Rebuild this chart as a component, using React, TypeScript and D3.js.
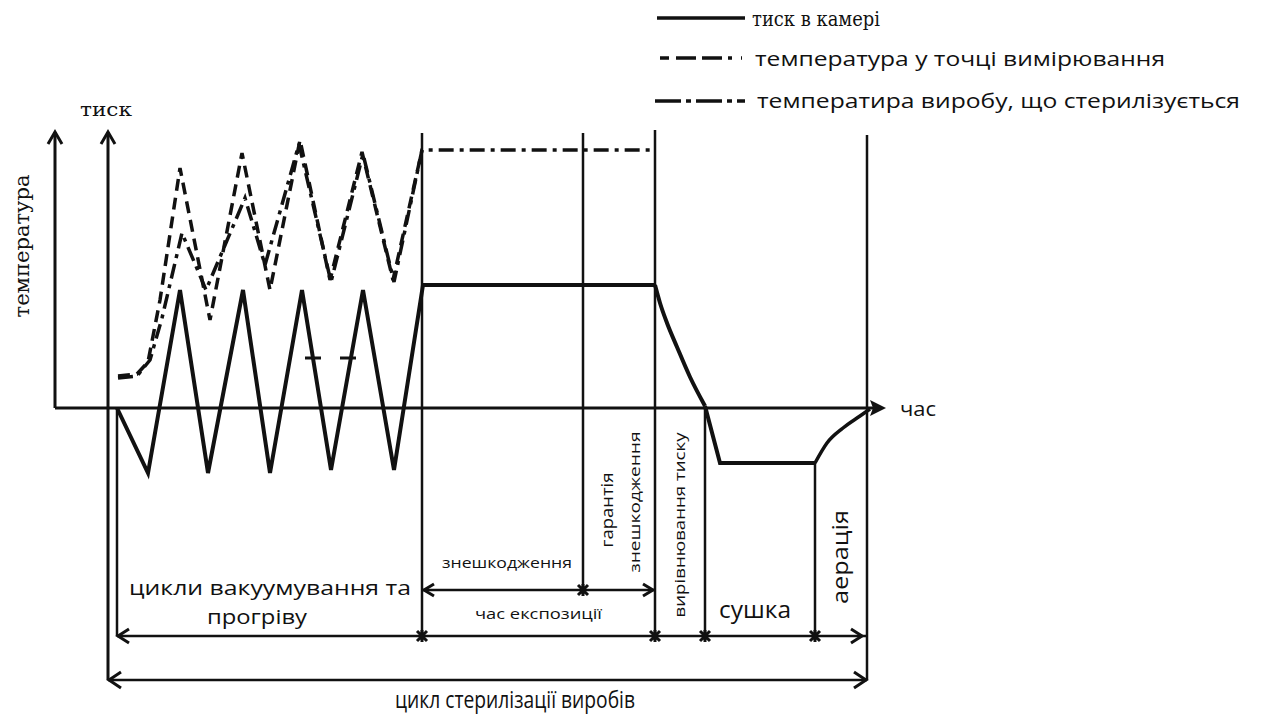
import React, { useEffect, useRef } from "react";
import * as d3 from "d3";

// time (arbitrary units) vs value (arbitrary units); 0 on value = time axis
const pressureZigzag: [number, number][] = [
  [6.2, 0], [9.3, -6.5], [12.5, 11.8], [15.3, -6.5], [18.8, 11.8], [21.5, -6.5],
  [24.7, 11.8], [27.6, -6.2], [30.8, 11.8], [33.9, -6.2], [36.8, 12.3], [60.0, 12.3],
];
const pressureRelease: [number, number][] = [
  [60.0, 12.3], [60.5, 10.5], [61.2, 8.5], [62.2, 6.1], [63.5, 3.1], [65.0, 0.2],
];
const pressureDry: [number, number][] = [
  [65.0, 0.2], [66.5, -5.5], [76.0, -5.5],
];
const pressureAeration: [number, number][] = [
  [76.0, -5.5], [77.2, -3.5], [78.8, -2.0], [80.5, -0.8], [81.5, -0.1],
];
const tempMeasure: [number, number][] = [
  [6.3, 3.2], [8.2, 3.4], [9.3, 4.6], [10.5, 10.8], [12.5, 24.0], [15.5, 8.8],
  [18.7, 25.5], [21.5, 11.8], [24.5, 26.8], [27.5, 12.8], [30.7, 25.6], [33.8, 12.8], [36.7, 25.8],
];
const tempProduct: [number, number][] = [
  [6.3, 3.0], [8.2, 3.2], [9.5, 4.8], [10.7, 9.0], [12.7, 17.5], [15.1, 11.8],
  [19.0, 21.0], [21.0, 14.3], [24.4, 26.4], [27.6, 12.6], [30.8, 25.4], [33.9, 12.6],
  [36.7, 25.8], [60.0, 25.8],
];
const strayDash: [number, number][] = [[25.0, 5.0], [30.5, 5.0]];

// phase boundaries: [time, top value, bottom value]
const boundaries: [number, number, number][] = [
  [6.2, 0, -22.8], [36.7, 27.5, -22.8], [52.8, 27.5, -18.2], [60.0, 27.8, -23.2],
  [65.0, 0, -22.9], [76.0, -5.5, -22.9], [81.2, 27.3, -27.2],
];
const legendLabels = [
  "тиск в камері",
  "температура у точці вимірювання",
  "температира виробу, що стерилізується",
];

export default function App() {
  const ref = useRef<SVGSVGElement>(null);

  useEffect(() => {
    const svg = d3.select(ref.current);
    svg.selectAll("*").remove();

    const x = d3.scaleLinear().domain([0, 83]).range([55, 885]);
    const y = d3.scaleLinear().domain([-30, 30]).range([708, 108]);
    const ink = "#111";

    const line = d3.line<[number, number]>().x((d) => x(d[0])).y((d) => y(d[1]));
    const smooth = d3.line<[number, number]>().x((d) => x(d[0])).y((d) => y(d[1])).curve(d3.curveMonotoneX);

    const g = svg.append("g");

    const seg = (x1: number, y1: number, x2: number, y2: number, w = 2.5) =>
      g.append("line").attr("x1", x1).attr("y1", y1).attr("x2", x2).attr("y2", y2)
        .attr("stroke", ink).attr("stroke-width", w);

    const openArrow = (tx: number, ty: number, dx: number, dy: number, len = 12, w = 7, sw = 3) => {
      const px = -dy, py = dx;
      g.append("path")
        .attr("d", `M${tx - dx * len + px * w},${ty - dy * len + py * w}L${tx},${ty}L${tx - dx * len - px * w},${ty - dy * len - py * w}`)
        .attr("fill", "none").attr("stroke", ink).attr("stroke-width", sw);
    };

    const star = (cx: number, cy: number) => {
      g.append("path")
        .attr("d", `M${cx - 5},${cy - 5}L${cx + 5},${cy + 5}M${cx + 5},${cy - 5}L${cx - 5},${cy + 5}M${cx},${cy - 6}L${cx},${cy + 6}`)
        .attr("stroke", ink).attr("stroke-width", 3);
    };

    // axes
    seg(x(0), y(0), 880, y(0), 3);
    g.append("path").attr("d", `M886,${y(0)}L870,${y(0) - 8}L873,${y(0)}L870,${y(0) + 8}Z`).attr("fill", ink);
    seg(x(0), y(0), x(0), 132, 3);
    openArrow(x(0), 132, 0, -1);
    const pAxis = x(5.3);
    seg(pAxis, y(-27.2), pAxis, 132, 3);
    openArrow(pAxis, 132, 0, -1);

    // phase boundaries
    boundaries.forEach(([t, top, bottom]) => seg(x(t), y(top), x(t), y(bottom), 2.5));

    // dimension lines
    const yInner = y(-22.8), yOuter = y(-27.2), yExpo = y(-18.2);
    seg(x(6.2), yInner, x(81.2), yInner, 2.5);
    openArrow(x(6.2) + 1, yInner, -1, 0, 11, 7);
    openArrow(x(81.2) - 5, yInner, 1, 0, 11, 7);
    [36.7, 60.0, 65.0, 76.0].forEach((t) => star(x(t), yInner));

    seg(pAxis, yOuter, x(81.2), yOuter, 2.5);
    openArrow(pAxis + 1, yOuter, -1, 0, 12, 8);
    openArrow(x(81.2) - 1, yOuter, 1, 0, 12, 8);

    seg(x(36.7), yExpo, x(60.0), yExpo, 2.5);
    openArrow(x(36.7) + 2, yExpo, -1, 0, 10, 6);
    openArrow(x(60.0) - 2, yExpo, 1, 0, 10, 6);
    star(x(52.8), yExpo);

    // curves
    const curve = (data: [number, number][], gen: any, w: number, dash?: string) =>
      g.append("path").attr("d", gen(data)).attr("fill", "none").attr("stroke", ink)
        .attr("stroke-width", w).attr("stroke-linejoin", "miter").attr("stroke-dasharray", dash ?? null);

    curve(tempProduct, line, 3.5, "15 6 4 6");
    curve(tempMeasure, line, 3.5, "12 7");
    curve(strayDash, line, 3, "16 19");
    curve(pressureZigzag, line, 4);
    curve(pressureRelease, smooth, 4);
    curve(pressureDry, line, 4);
    curve(pressureAeration, smooth, 3.5);

    // texts
    const sans = "'Open Sans', 'DejaVu Sans', sans-serif";
    const serif = "'DejaVu Serif', serif";
    const text = (s: string, tx: number, ty: number, size: number, len: number, font = sans, rotate = false) => {
      const t = g.append("text")
        .attr("font-family", font).attr("font-size", size).attr("fill", ink)
        .attr("textLength", len).attr("lengthAdjust", "spacingAndGlyphs")
        .text(s);
      if (rotate) t.attr("transform", `translate(${tx},${ty}) rotate(-90)`).attr("text-anchor", "middle");
      else t.attr("x", tx).attr("y", ty);
      return t;
    };

    text("тиск", 80, 116, 18, 52, serif);
    text("температура", 29, 246, 21, 143, serif, true);
    text("час", 900, 416, 20, 36);

    text("цикли вакуумування та", 129, 595, 20, 282);
    text("прогріву", 207, 624, 20, 100);
    text("знешкодження", 442, 568, 15, 130);
    text("час експозиції", 475, 619, 15, 127);
    text("гарантія", 613, 510, 16, 75, sans, true);
    text("знешкодження", 640, 502, 15, 141, sans, true);
    text("вирівнювання тиску", 685, 525, 14, 185, sans, true);
    text("сушка", 719, 618, 23, 72);
    text("аерація", 848, 557, 22, 94, sans, true);
    text("цикл стерилізації виробів", 395, 708, 24, 240);

    // legend
    seg(657, 18, 745, 18, 3.5);
    g.append("line").attr("x1", 660).attr("y1", 58).attr("x2", 742).attr("y2", 58)
      .attr("stroke", ink).attr("stroke-width", 3.5).attr("stroke-dasharray", "9 7 20 6 20 6 4");
    g.append("line").attr("x1", 655).attr("y1", 101).attr("x2", 745).attr("y2", 101)
      .attr("stroke", ink).attr("stroke-width", 3.5).attr("stroke-dasharray", "26 5 5 5");
    text(legendLabels[0], 752, 26, 20, 128, serif);
    text(legendLabels[1], 755, 66, 20, 410);
    text(legendLabels[2], 757, 108, 20, 483);
  }, []);

  return (
    <svg ref={ref} width={1264} height={720}
      style={{ position: "absolute", left: 0, top: 0, background: "#fff" }} />
  );
}
